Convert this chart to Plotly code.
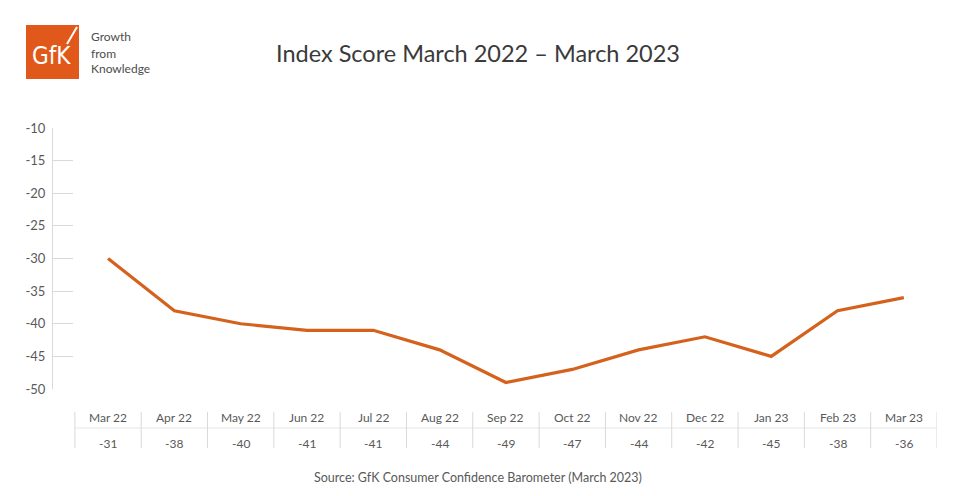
import plotly.graph_objects as go

# %% data
months = ['Mar 22', 'Apr 22', 'May 22', 'Jun 22', 'Jul 22', 'Aug 22', 'Sep 22',
          'Oct 22', 'Nov 22', 'Dec 22', 'Jan 23', 'Feb 23', 'Mar 23']
line_scores = [-30, -38, -40, -41, -41, -44, -49, -47, -44, -42, -45, -38, -36]
table_scores = [-31, -38, -40, -41, -41, -44, -49, -47, -44, -42, -45, -38, -36]
y_ticks = [-10, -15, -20, -25, -30, -35, -40, -45, -50]
y_tick_text = ['-10', '-15', '-20', '-25', '-30', '-35', '-40', '-45', '-50']

ORANGE = '#D4621C'
GREY = '#595959'
LINE_GREY = '#D9D9D9'
FONT = 'Lato'

W, H = 956, 496
L, R, T, B = 53, 937, 128, 389  # plot area in pixels


def px(x):
    return (x - L) / (R - L)


def py(y):
    return (B - y) / (B - T)


xs = list(range(len(months)))

fig = go.Figure()
fig.add_trace(go.Scatter(x=xs, y=line_scores, mode='lines',
                         line=dict(color=ORANGE, width=3.2),
                         hoverinfo='skip'))

shapes = []
annotations = []


def note(x, y, text, size, color=GREY, xref='paper', xanchor='center', family=FONT):
    annotations.append(dict(x=x, y=y, xref=xref, yref='paper', text=text,
                            xanchor=xanchor, yanchor='middle', showarrow=False,
                            font=dict(family=family, size=size, color=color)))


# table under the chart
shapes.append(dict(type='line', xref='x', yref='paper', x0=-0.5, x1=12.5,
                   y0=py(428), y1=py(428), line=dict(color='#E6E6E6', width=1)))
for i in range(len(months) + 1):
    shapes.append(dict(type='line', xref='x', yref='paper', x0=i - 0.5, x1=i - 0.5,
                       y0=py(412), y1=py(448), line=dict(color=LINE_GREY, width=1)))
for i, (m, v) in enumerate(zip(months, table_scores)):
    note(i, py(417), m, 12, xref='x')
    note(i, py(443), str(v), 12, xref='x')

# source line
note(px(478), py(477), 'Source: GfK Consumer Confidence Barometer (March 2023)', 12.5)

# title
note(px(478), py(53), 'Index Score March 2022 \u2013 March 2023', 23.5, color='#3A3A3A')

# GfK logo
shapes.append(dict(type='rect', xref='paper', yref='paper', x0=px(26), x1=px(79),
                   y0=py(79), y1=py(25), fillcolor='#E0591A', line=dict(width=0),
                   layer='below'))
shapes.append(dict(type='line', xref='paper', yref='paper', x0=px(67), x1=px(77),
                   y0=py(44), y1=py(27), line=dict(color='white', width=2)))
note(px(51), py(56), 'GfK', 24, color='white', family='DejaVu Sans Condensed')
for txt, yy in [('Growth', 37), ('from', 53), ('Knowledge', 68)]:
    note(px(89), py(yy), txt, 12, color='#4D4D4D', xanchor='left')

fig.update_layout(
    width=W, height=H,
    margin=dict(l=L, r=W - R, t=T, b=H - B, autoexpand=False),
    paper_bgcolor='white', plot_bgcolor='white',
    showlegend=False,
    shapes=shapes, annotations=annotations,
    xaxis=dict(range=[-0.83, 12.5], showgrid=False, zeroline=False,
               showticklabels=False, ticks='', showline=False, fixedrange=True),
    yaxis=dict(range=[-50, -10], tickvals=y_ticks, ticktext=y_tick_text,
               showgrid=False, zeroline=False,
               showline=True, linecolor=LINE_GREY, linewidth=1,
               ticks='inside', ticklen=20, tickcolor=LINE_GREY, tickwidth=1,
               tickfont=dict(family=FONT, size=13, color=GREY), ticklabelstandoff=4,
               fixedrange=True),
)

fig.write_html('out.html', config={'displayModeBar': False},
               post_script="document.body.style.margin='0';")
